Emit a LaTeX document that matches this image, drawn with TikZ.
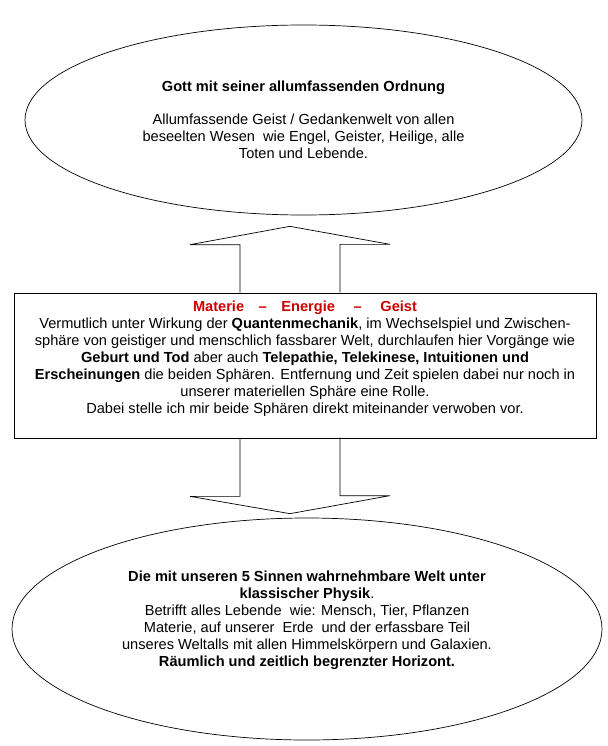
\documentclass[tikz,border=0pt]{standalone}
\usepackage{fontspec}
\setmainfont{Liberation Sans}
\usepackage{xcolor}
\usetikzlibrary{positioning,calc,shapes.geometric}
\definecolor{headred}{RGB}{204,0,0}
\tikzset{
  sphere/.style={ellipse, draw, line width=0.7pt, inner sep=0pt, align=center},
  midbox/.style={rectangle, draw, line width=0.7pt, inner sep=0pt, align=center},
  blockarrow/.style={draw, line width=0.7pt, line join=miter}
}

\begin{document}
\begin{tikzpicture}[x=1pt, y=-1pt, font=\fontsize{14.6}{17}\selectfont]
  \useasboundingbox (0,0) rectangle (607,746);
  \node[sphere, minimum width=557pt, minimum height=190pt] (geist) at (303.5,120)
    {\textbf{Gott mit seiner allumfassenden Ordnung}\\[16pt]
     Allumfassende Geist / Gedankenwelt von allen\\
     beseelten Wesen\ \ wie Engel, Geister, Heilige, alle\\
     Toten und Lebende.};
  \node[midbox, minimum width=582pt, minimum height=145pt] (zwischen) at (305,365.5)
    {\textcolor{headred}{\textbf{Materie\quad--\quad Energie\quad\ --\quad\ Geist}}\\
     Vermutlich unter Wirkung der \textbf{Quantenmechanik}, im Wechselspiel und Zwischen-\\
     sphäre von geistiger und menschlich fassbarer Welt, durchlaufen hier Vorgänge wie\\
     \textbf{Geburt und Tod} aber auch \textbf{Telepathie, Telekinese, Intuitionen und}\\
     \textbf{Erscheinungen} die beiden Sphären. Entfernung und Zeit spielen dabei nur noch in\\
     unserer materiellen Sphäre eine Rolle.\\
     Dabei stelle ich mir beide Sphären direkt miteinander verwoben vor.\\[0pt]
     \mbox{}};
  \node[sphere, minimum width=590pt, minimum height=222pt] (welt) at (307,629)
    {\textbf{Die mit unseren 5 Sinnen wahrnehmbare Welt unter}\\
     \textbf{klassischer Physik}.\\
     Betrifft alles Lebende\ \ wie: Mensch, Tier, Pflanzen\\
     Materie, auf unserer\ \ Erde\ \ und der erfassbare Teil\\
     unseres Weltalls mit allen Himmelskörpern und Galaxien.\\
     \textbf{Räumlich und zeitlich begrenzter Horizont.}\\[4pt]\mbox{}};
  \coordinate (achse) at (290,0);
  % arrow up to the spiritual sphere
  \draw[blockarrow] ($(achse |- zwischen.north)+(-50,0)$) -- ++(0,-48) -- ++(-50,0)
    -- ($(achse |- geist.south)+(0,11)$) -- ++(100,18) -- ++(-50,0)
    -- ++(0,48);
  % arrow down to the material sphere
  \draw[blockarrow] ($(achse |- zwischen.south)+(-50,0)$) -- ++(0,58) -- ++(-50,0)
    -- ($(achse |- welt.north)+(0,-4)$) -- ++(100,-18) -- ++(-50,0)
    -- ++(0,-58);
\end{tikzpicture}
\end{document}
